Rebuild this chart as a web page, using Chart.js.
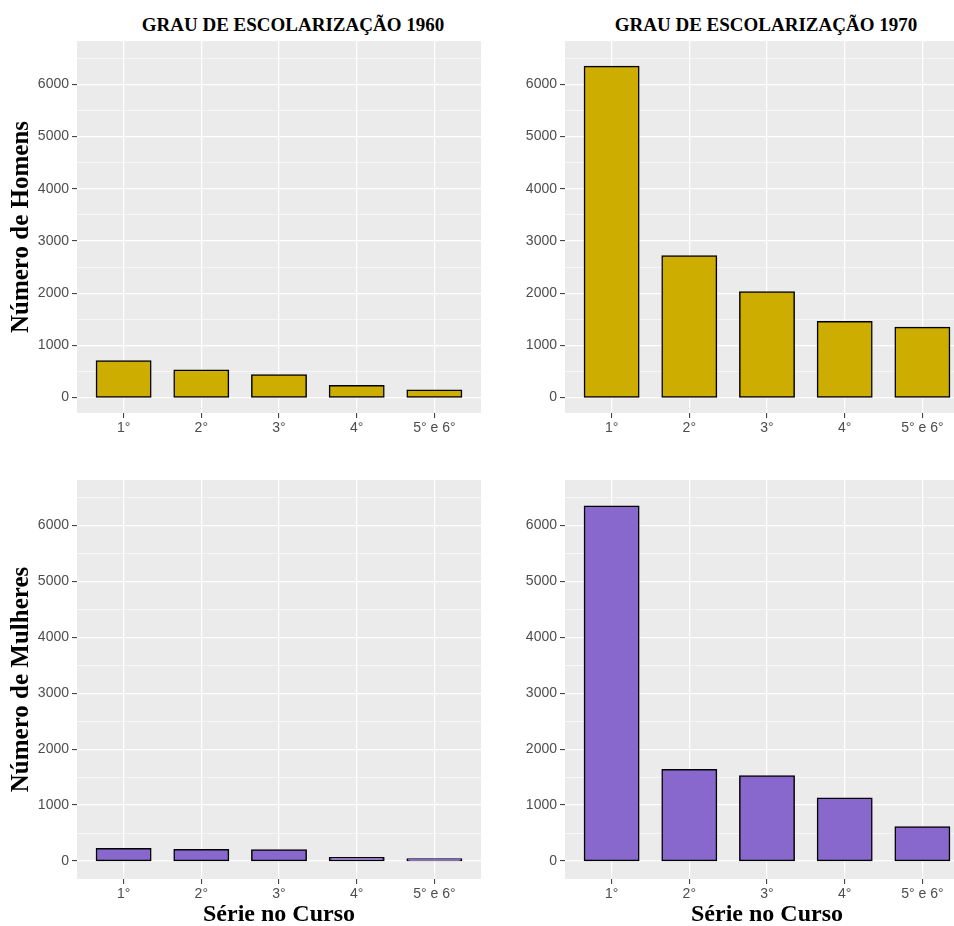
<!DOCTYPE html>
<html>
<head>
<meta charset="utf-8">
<script src="https://cdn.jsdelivr.net/npm/chart.js@4/dist/chart.umd.min.js"></script>
<style>
  body { margin: 0; width: 954px; height: 926px; overflow: hidden; background: #fff; position: relative; }
  canvas { position: absolute; }
  .title { position: absolute; font: bold 19px "Liberation Serif", serif; line-height: 22px; color: #000; white-space: nowrap; transform: translateX(-50%); }
</style>
</head>
<body>
<div class="title" style="left:293px; top:14px">GRAU DE ESCOLARIZAÇÃO 1960</div>
<div class="title" style="left:766px; top:14px">GRAU DE ESCOLARIZAÇÃO 1970</div>
<canvas id="h1960" width="500" height="402" style="left:0; top:41px"></canvas>
<canvas id="h1970" width="500" height="402" style="left:488px; top:41px"></canvas>
<canvas id="m1960" width="500" height="455" style="left:0; top:480px"></canvas>
<canvas id="m1970" width="500" height="455" style="left:488px; top:480px"></canvas>
<script>
const categories = ['1°', '2°', '3°', '4°', '5° e 6°'];
const homens1960 = [700, 520, 430, 225, 140];
const homens1970 = [6340, 2710, 2020, 1450, 1340];
const mulheres1960 = [220, 200, 195, 60, 35];
const mulheres1970 = [6340, 1630, 1520, 1120, 610];
const yTicks = [0, 1000, 2000, 3000, 4000, 5000, 6000];
const yMinor = [500, 1500, 2500, 3500, 4500, 5500, 6500];

const gold = '#CDAD00';
const purple = '#8968CD';

// grey ggplot panel behind the grid
const panelBg = {
  id: 'panelBg',
  beforeDraw(chart) {
    const { ctx, chartArea: a } = chart;
    ctx.save();
    ctx.fillStyle = '#EBEBEB';
    ctx.fillRect(a.left, a.top, a.right - a.left, a.bottom - a.top);
    ctx.restore();
  }
};

const isMajor = c => c.tick && yTicks.includes(c.tick.value);

function panel(id, values, color, yMin, yMax, yTitle, xTitle) {
  const ctx = document.getElementById(id).getContext('2d');
  new Chart(ctx, {
    type: 'bar',
    data: {
      datasets: [{
        data: values.map((v, i) => ({ x: i, y: v })),
        backgroundColor: color,
        borderColor: '#000',
        borderWidth: 1.5,
        borderSkipped: false,
        inflateAmount: 0.75,
        barPercentage: 0.7,
        categoryPercentage: 1
      }]
    },
    options: {
      responsive: false,
      animation: false,
      layout: { padding: { left: 0, right: 19, top: 0, bottom: 0 } },
      plugins: { legend: { display: false }, tooltip: { enabled: false } },
      scales: {
        x: {
          type: 'linear',
          offset: false,
          min: -0.6,
          max: 4.6,
          afterBuildTicks: s => { s.ticks = categories.map((c, i) => ({ value: i })); },
          afterFit: s => {
            s.height = xTitle ? 56 : 30;
            s.paddingLeft = 0;
            s.paddingRight = 0;
          },
          ticks: {
            callback: v => categories[v],
            color: '#4D4D4D',
            font: { family: 'Liberation Sans', size: 14 },
            padding: 2,
            maxRotation: 0,
            autoSkip: false
          },
          grid: { offset: false, color: '#fff', lineWidth: 1.2, tickColor: '#333', tickLength: 5, tickWidth: 1 },
          border: { display: false },
          title: {
            display: !!xTitle,
            text: xTitle,
            color: '#000',
            font: { family: 'Liberation Serif', size: 24, weight: 'bold' },
            padding: { top: 0, bottom: 6 }
          }
        },
        y: {
          min: yMin,
          max: yMax,
          afterBuildTicks: s => {
            s.ticks = yTicks.concat(yMinor).sort((a, b) => a - b).map(v => ({ value: v }));
          },
          afterFit: s => {
            s.width = 77;
            s.paddingTop = 0;
            s.paddingBottom = 0;
          },
          ticks: {
            callback: v => yTicks.includes(v) ? String(v) : '',
            color: '#4D4D4D',
            font: { family: 'Liberation Sans', size: 14 },
            padding: 3,
            autoSkip: false
          },
          grid: {
            color: '#fff',
            lineWidth: c => isMajor(c) ? 1.2 : 0.6,
            tickColor: c => isMajor(c) ? '#333' : 'rgba(0,0,0,0)',
            tickLength: 5,
            tickWidth: 1
          },
          border: { display: false },
          title: {
            display: !!yTitle,
            text: yTitle,
            color: '#000',
            font: { family: 'Liberation Serif', size: 25, weight: 'bold' },
            padding: { top: 7, bottom: 0 }
          }
        }
      }
    },
    plugins: [panelBg]
  });
}

panel('h1960', homens1960, gold, -297, 6830, 'Número de Homens', '');
panel('h1970', homens1970, gold, -297, 6830, '', '');
panel('m1960', mulheres1960, purple, -321, 6809, 'Número de Mulheres', 'Série no Curso');
panel('m1970', mulheres1970, purple, -321, 6809, '', 'Série no Curso');
</script>
</body>
</html>
